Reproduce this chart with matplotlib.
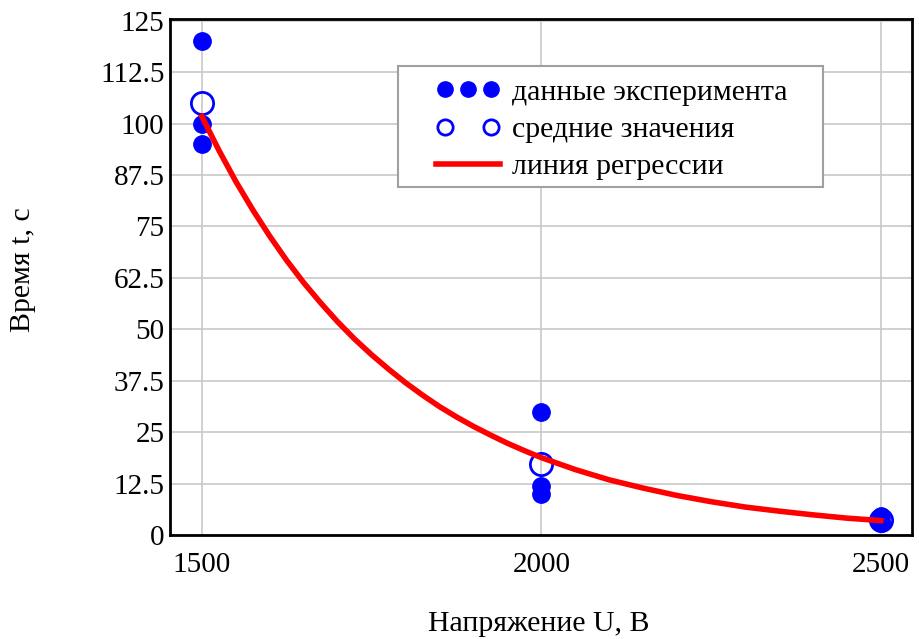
import matplotlib
matplotlib.use('Agg')
import matplotlib.pyplot as plt
from matplotlib.lines import Line2D
from matplotlib.patches import Rectangle
from matplotlib.legend_handler import HandlerLine2D

plt.rcParams['font.family'] = ['Liberation Serif', 'DejaVu Serif']

# данные эксперимента
U_exp = [1500, 1500, 1500, 2000, 2000, 2000, 2500, 2500, 2500]
t_exp = [120, 100, 95, 30, 12, 10, 4.5, 3.5, 3]

# средние значения
U_mean = [1500, 2000, 2500]
t_mean = [105, 17.33, 3.67]

# линия регрессии
U_reg = [1500, 1525, 1550, 1575, 1600, 1625, 1650, 1675, 1700, 1725, 1750,
         1775, 1800, 1825, 1850, 1875, 1900, 1925, 1950, 1975, 2000,
         2050, 2100, 2150, 2200, 2250, 2300, 2350, 2400, 2450, 2500]
t_reg = [101.7, 93.5, 85.9, 79.0, 72.6, 66.7, 61.3, 56.4, 51.8, 47.6, 43.8,
         40.3, 37.0, 34.0, 31.2, 28.7, 26.4, 24.3, 22.3, 20.5, 18.8,
         15.9, 13.4, 11.4, 9.6, 8.1, 6.8, 5.8, 4.9, 4.1, 3.5]

x_ticks = [1500, 2000, 2500]
y_ticks = [0, 12.5, 25, 37.5, 50, 62.5, 75, 87.5, 100, 112.5, 125]
y_ticklabels = ['0', '12.5', '25', '37.5', '50', '62.5', '75', '87.5', '100', '112.5', '125']

fig = plt.figure(figsize=(9.2, 6.39), dpi=100)
ax = fig.add_axes([170/920, 1-535/639, 742/920, 516/639])

ax.plot(U_mean, t_mean, 'o', ms=16, mfc='none', mec='#0000ff', mew=2, zorder=3)
ax.plot(U_exp, t_exp, 'o', ms=12.5, color='#0000ff', mec='#0000ff', zorder=4)
ax.plot(U_reg, t_reg, '-', color='#ff0000', lw=4, zorder=5)

ax.set_xlim(1453, 2546)
ax.set_ylim(0, 125.4)
ax.set_xticks(x_ticks)
ax.set_yticks(y_ticks)
ax.set_yticklabels(y_ticklabels)
ax.tick_params(axis='both', length=0, labelsize=21)
ax.tick_params(axis='x', pad=12)
ax.tick_params(axis='y', pad=4)
ax.grid(True, color='#c8c8c8', lw=1.2)
ax.set_axisbelow(True)
for s in ax.spines.values():
    s.set_linewidth(2)
    s.set_color('black')

fig.text(23/920, 1-270/639, 'Время t, с', rotation=90, ha='center', va='center', fontsize=21.5)
fig.text(539/920, 1-624/639, 'Напряжение U, В', ha='center', va='center', fontsize=21.5)

# легенда
h1 = Line2D([], [], ls='none', marker='o', ms=11, color='#0000ff')
h2 = Line2D([], [], ls='none', marker='o', ms=11, mfc='none', mec='#0000ff', mew=2)
h3 = Line2D([], [], color='#ff0000', lw=4)
ax.legend([h1, h2, h3], ['данные эксперимента', 'средние значения', 'линия регрессии'],
          handler_map={h1: HandlerLine2D(numpoints=3), h2: HandlerLine2D(numpoints=2)},
          loc='upper left', bbox_to_anchor=(0.338, 0.913), frameon=False, borderpad=0,
          fontsize=21.5, handlelength=2.14, handletextpad=0.43, labelspacing=0.35)
ax.add_patch(Rectangle((0.3073, 0.6744), 0.5728, 0.2345, transform=ax.transAxes,
                       fill=True, facecolor='white', edgecolor='#a0a0a0', lw=1.5, zorder=6))
ax.get_legend().set_zorder(7)

fig.savefig('out.png', dpi=100)
